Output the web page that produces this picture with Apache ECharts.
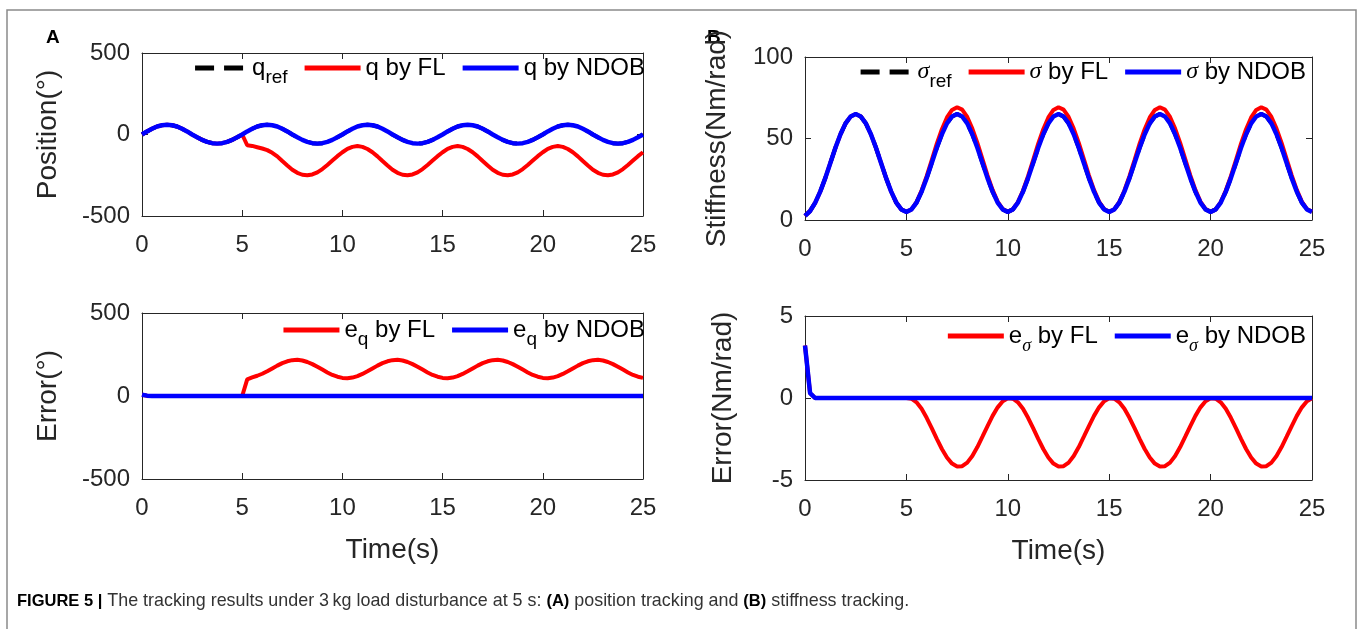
<!DOCTYPE html>
<html><head><meta charset="utf-8">
<script src="https://cdn.jsdelivr.net/npm/echarts@6/dist/echarts.min.js"></script>
<style>html,body{margin:0;padding:0;background:#fff}#c{width:1362px;height:629px}</style>
</head><body><div id="c"></div>
<script>
// time samples (s)
const T = [0,0.25,0.5,0.75,1,1.25,1.5,1.75,2,2.25,2.5,2.75,3,3.25,3.5,3.75,4,4.25,4.5,4.75,
5,5.25,5.5,5.75,6,6.25,6.5,6.75,7,7.25,7.5,7.75,8,8.25,8.5,8.75,9,9.25,9.5,9.75,
10,10.25,10.5,10.75,11,11.25,11.5,11.75,12,12.25,12.5,12.75,13,13.25,13.5,13.75,14,14.25,14.5,14.75,
15,15.25,15.5,15.75,16,16.25,16.5,16.75,17,17.25,17.5,17.75,18,18.25,18.5,18.75,19,19.25,19.5,19.75,
20,20.25,20.5,20.75,21,21.25,21.5,21.75,22,22.25,22.5,22.75,23,23.25,23.5,23.75,24,24.25,24.5,24.75,25];

const xTicks = [0,5,10,15,20,25];

// Position (deg)
const posNDOB = [0,19,35,49,57,60,57,49,35,19,0,-17,-33,-45,-53,-56,-53,-45,-33,-17,
0,19,35,49,57,60,57,49,35,19,0,-17,-33,-45,-53,-56,-53,-45,-33,-17,
0,19,35,49,57,60,57,49,35,19,0,-17,-33,-45,-53,-56,-53,-45,-33,-17,
0,19,35,49,57,60,57,49,35,19,0,-17,-33,-45,-53,-56,-53,-45,-33,-17,
0,19,35,49,57,60,57,49,35,19,0,-17,-33,-45,-53,-56,-53,-45,-33,-17,0];
const posFL = [0,19,35,49,57,60,57,49,35,19,0,-17,-33,-45,-53,-56,-53,-45,-33,-17,
0,-66,-70,-78,-86,-96,-112,-134,-163,-190,-216,
-235,-247,-250,-245,-232,-212,-187,-160,-133,-109,-88,-76,-71,-76,-89,-109,-134,-163,-190,-216,
-235,-247,-250,-245,-232,-212,-187,-160,-133,-109,-88,-76,-71,-76,-89,-109,-134,-163,-190,-216,
-235,-247,-250,-245,-232,-212,-187,-160,-133,-109,-88,-76,-71,-76,-89,-109,-134,-163,-190,-216,
-235,-247,-250,-245,-232,-212,-187,-160,-133,-109];
const posRef = posNDOB;

// Position error (deg)
const errQFL = [8,2,0,0,0,0,0,0,0,0,0,0,0,0,0,0,0,0,0,0,0,
100,112,122,134,149,166,183,198,209,216,
218,214,205,192,176,159,142,127,116,109,107,111,120,133,149,166,183,198,209,216,
218,214,205,192,176,159,142,127,116,109,107,111,120,133,149,166,183,198,209,216,
218,214,205,192,176,159,142,127,116,109,107,111,120,133,149,166,183,198,209,216,
218,214,205,192,176,159,142,127,116,109];
const errQNDOB = [8,2,0,0,0,0,0,0,0,0,0,0,0,0,0,0,0,0,0,0,
0,0,0,0,0,0,0,0,0,0,0,0,0,0,0,0,0,0,0,0,
0,0,0,0,0,0,0,0,0,0,0,0,0,0,0,0,0,0,0,0,
0,0,0,0,0,0,0,0,0,0,0,0,0,0,0,0,0,0,0,0,
0,0,0,0,0,0,0,0,0,0,0,0,0,0,0,0,0,0,0,0,0];

// Stiffness (Nm/rad)
const stfNDOB = [2.5,5.5,10.5,17.4,25.7,35,44.3,52.6,59.3,63.5,65,63.5,59.3,52.6,44.3,35,25.7,17.4,10.7,6.5,
5,6.5,10.7,17.4,25.7,35,44.3,52.6,59.3,63.5,65,63.5,59.3,52.6,44.3,35,25.7,17.4,10.7,6.5,
5,6.5,10.7,17.4,25.7,35,44.3,52.6,59.3,63.5,65,63.5,59.3,52.6,44.3,35,25.7,17.4,10.7,6.5,
5,6.5,10.7,17.4,25.7,35,44.3,52.6,59.3,63.5,65,63.5,59.3,52.6,44.3,35,25.7,17.4,10.7,6.5,
5,6.5,10.7,17.4,25.7,35,44.3,52.6,59.3,63.5,65,63.5,59.3,52.6,44.3,35,25.7,17.4,10.7,6.5,5];
const stfFL = [2.5,5.5,10.5,17.4,25.7,35,44.3,52.6,59.3,63.5,65,63.5,59.3,52.6,44.3,35,25.7,17.4,10.7,6.5,5,
6.5,11.0,18.1,26.9,36.8,46.8,55.7,62.9,67.5,69.2,67.7,63.2,56.1,47.3,37.4,27.4,18.5,11.3,6.7,5.0,
6.5,11.0,18.1,26.9,36.8,46.8,55.7,62.9,67.5,69.2,67.7,63.2,56.1,47.3,37.4,27.4,18.5,11.3,6.7,5.0,
6.5,11.0,18.1,26.9,36.8,46.8,55.7,62.9,67.5,69.2,67.7,63.2,56.1,47.3,37.4,27.4,18.5,11.3,6.7,5.0,
6.5,11.0,18.1,26.9,36.8,46.8,55.7,62.9,67.5,69.2,67.7,63.2,56.1,47.3,37.4,27.4,18.5,11.3,6.7,5.0];
const stfRef = stfNDOB;

// Stiffness error (Nm/rad)
const errSFL = [3.2,0.3,0,0,0,0,0,0,0,0,0,0,0,0,0,0,0,0,0,0,0,
-0.04,-0.26,-0.66,-1.21,-1.84,-2.49,-3.11,-3.63,-4.00,-4.18,-4.16,-3.94,-3.54,-2.99,-2.36,-1.71,-1.09,-0.57,-0.20,-0.02,
-0.04,-0.26,-0.66,-1.21,-1.84,-2.49,-3.11,-3.63,-4.00,-4.18,-4.16,-3.94,-3.54,-2.99,-2.36,-1.71,-1.09,-0.57,-0.20,-0.02,
-0.04,-0.26,-0.66,-1.21,-1.84,-2.49,-3.11,-3.63,-4.00,-4.18,-4.16,-3.94,-3.54,-2.99,-2.36,-1.71,-1.09,-0.57,-0.20,-0.02,
-0.04,-0.26,-0.66,-1.21,-1.84,-2.49,-3.11,-3.63,-4.00,-4.18,-4.16,-3.94,-3.54,-2.99,-2.36,-1.71,-1.09,-0.57,-0.20,-0.02];
const errSNDOB = [3.2,0.3,0,0,0,0,0,0,0,0,0,0,0,0,0,0,0,0,0,0,
0,0,0,0,0,0,0,0,0,0,0,0,0,0,0,0,0,0,0,0,
0,0,0,0,0,0,0,0,0,0,0,0,0,0,0,0,0,0,0,0,
0,0,0,0,0,0,0,0,0,0,0,0,0,0,0,0,0,0,0,0,
0,0,0,0,0,0,0,0,0,0,0,0,0,0,0,0,0,0,0,0,0];

const FONT = 'Liberation Sans, Arial, sans-serif';
const AX = '#262626';
const pair = arr => T.map((t, i) => [t, arr[i]]);

const grids = [
  {left:142, top:53, width:501, height:163},
  {left:805, top:57, width:507, height:163},
  {left:142, top:313, width:501, height:166},
  {left:805, top:316, width:507, height:164}
];
const yCfg = [
  {min:-500, max:500, interval:500, name:'Position(°)', gap:80},
  {min:0, max:100, interval:50, name:'Stiffness(Nm/rad)', gap:74},
  {min:-500, max:500, interval:500, name:'Error(°)', gap:80},
  {min:-5, max:5, interval:5, name:'Error(Nm/rad)', gap:68}
];

const xAxis = [], yAxis = [];
grids.forEach((g, i) => {
  const common = {
    type:'value', gridIndex:i, min:xTicks[0], max:xTicks[xTicks.length-1], interval:xTicks[1]-xTicks[0],
    axisLine:{show:true, onZero:false, lineStyle:{color:AX, width:1}},
    axisTick:{show:true, inside:true, length:6, lineStyle:{color:AX}},
    splitLine:{show:false}
  };
  xAxis.push(Object.assign({}, common, {
    position:'bottom',
    axisLabel:{show:true, color:AX, fontSize:24, fontFamily:FONT, margin:17},
    name: i >= 2 ? 'Time(s)' : '', nameLocation:'middle', nameGap:57,
    nameTextStyle:{color:AX, fontSize:28, fontFamily:FONT}
  }));
  xAxis.push(Object.assign({}, common, {position:'top', axisLabel:{show:false}}));
  const y = yCfg[i];
  const yc = {
    type:'value', gridIndex:i, min:y.min, max:y.max, interval:y.interval,
    axisLine:{show:true, onZero:false, lineStyle:{color:AX, width:1}},
    axisTick:{show:true, inside:true, length:6, lineStyle:{color:AX}},
    splitLine:{show:false}
  };
  yAxis.push(Object.assign({}, yc, {
    position:'left',
    axisLabel:{show:true, color:AX, fontSize:24, fontFamily:FONT, margin:12},
    name:y.name, nameLocation:'middle', nameGap:y.gap,
    nameTextStyle:{color:AX, fontSize:28, fontFamily:FONT}
  }));
  yAxis.push(Object.assign({}, yc, {position:'right', axisLabel:{show:false}}));
});

function ser(name, data, gi, color, width, dashed) {
  return {
    name, type:'line', xAxisIndex:gi*2, yAxisIndex:gi*2, data:pair(data),
    symbol:'none', showSymbol:false, smooth:false, animation:false,
    lineStyle:{color, width, type: dashed ? [16,14] : 'solid', cap:'butt'},
    itemStyle:{color}
  };
}
const RED = '#ff0000', BLUE = '#0000ff';
const series = [
  ser('qref', posRef, 0, '#000', 4, true),
  ser('qFL', posFL, 0, RED, 4, false),
  ser('qNDOB', posNDOB, 0, BLUE, 4.5, false),
  ser('sref', stfRef, 1, '#000', 4, true),
  ser('sFL', stfFL, 1, RED, 4, false),
  ser('sNDOB', stfNDOB, 1, BLUE, 4.5, false),
  ser('eqFL', errQFL, 2, RED, 4, false),
  ser('eqNDOB', errQNDOB, 2, BLUE, 4.5, false),
  ser('esFL', errSFL, 3, RED, 4, false),
  ser('esNDOB', errSNDOB, 3, BLUE, 4.5, false)
];

const labels = {
  qref:'q{s|ref}', qFL:'q by FL', qNDOB:'q by NDOB',
  sref:'{i|σ}{s|ref}', sFL:'{i|σ} by FL', sNDOB:'{i|σ} by NDOB',
  eqFL:'e{s|q} by FL', eqNDOB:'e{s|q} by NDOB',
  esFL:'e{si|σ} by FL', esNDOB:'e{si|σ} by NDOB'
};
const rich = {
  s:{fontSize:19, fontFamily:FONT, color:'#000', padding:[20,0,0,0]},
  si:{fontSize:18, fontFamily:'Liberation Serif, serif', fontStyle:'italic', color:'#000', padding:[20,0,0,0]},
  i:{fontSize:24, fontFamily:'Liberation Serif, serif', fontStyle:'italic', color:'#000'}
};
const DASH_ICON = 'path://M0,0h19v5h-19z M29,0h19v5h-19z';
const LINE_ICON = 'path://M0,0h56v5h-56z';
function legend(names, right, top) {
  return {
    data:names.map(n => ({name:n, icon: /ref$/.test(n) ? DASH_ICON : LINE_ICON})),
    right, top, orient:'horizontal', padding:0, itemGap:17,
    itemWidth:56, itemHeight:5, selectedMode:false,
    formatter: n => labels[n],
    textStyle:{fontSize:24, fontFamily:FONT, color:'#000', rich}
  };
}

const option = {
  backgroundColor:'#fff',
  animation:false,
  grid: grids.map(g => Object.assign({containLabel:false}, g)),
  xAxis, yAxis, series,
  legend:[
    legend(['qref','qFL','qNDOB'], 1362-645, 56),
    legend(['sref','sFL','sNDOB'], 1362-1306, 60),
    legend(['eqFL','eqNDOB'], 1362-645, 318),
    legend(['esFL','esNDOB'], 1362-1306, 324)
  ],
  graphic:[
    {type:'rect', shape:{x:7, y:10, width:1349, height:640}, style:{fill:'none', stroke:'#8a8a8a', lineWidth:1.5}, silent:true},
    {type:'text', left:46, top:28, style:{text:'A', fontSize:19, fontWeight:'bold', fontFamily:FONT, fill:'#000'}},
    {type:'text', left:707, top:28, style:{text:'B', fontSize:19, fontWeight:'bold', fontFamily:FONT, fill:'#000'}},
    {type:'text', left:17, top:592, style:{
      text:'{b|FIGURE 5 |} The tracking results under 3\u2009kg load disturbance at 5 s: {b|(A)} position tracking and {b|(B)} stiffness tracking.',
      fontSize:17.9, fontFamily:FONT, fill:'#333',
      rich:{b:{fontSize:16.5, fontWeight:'bold', fontFamily:'Liberation Sans Narrow, Liberation Sans, Arial, sans-serif', fill:'#000'}}
    }}
  ]
};
echarts.init(document.getElementById('c'), null, {renderer:'canvas'}).setOption(option);
</script></body></html>
